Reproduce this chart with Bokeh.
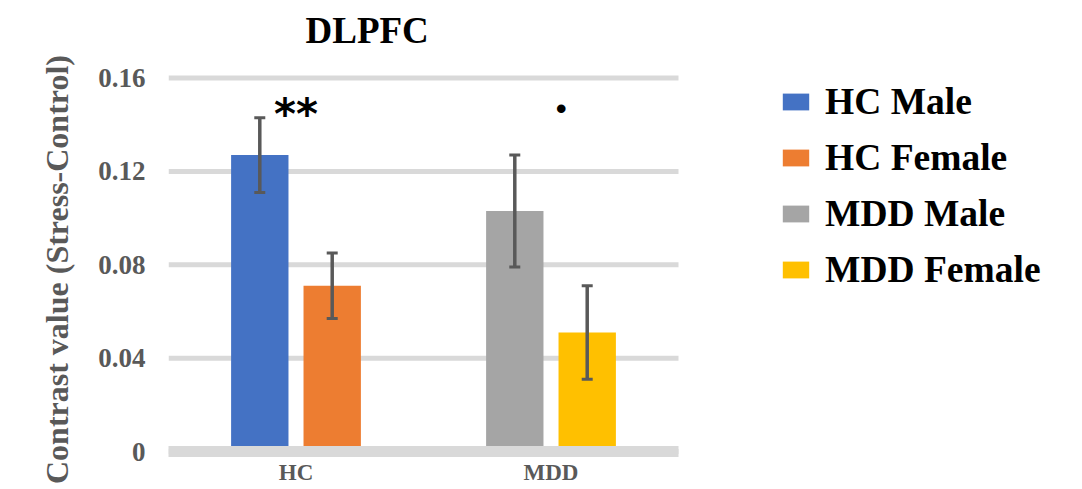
from bokeh.plotting import figure
from bokeh.models import (Range1d, Whisker, ColumnDataSource,
                          Legend, LegendItem, FixedTicker, TeeHead)
from bokeh.core.properties import value
from bokeh.embed import file_html
from bokeh.resources import INLINE

# ---------------- data ----------------
categories = ["HC", "MDD"]
series_names = ["HC Male", "HC Female", "MDD Male", "MDD Female"]
series_group = ["HC", "HC", "MDD", "MDD"]
series_values = [0.127, 0.071, 0.103, 0.051]
series_errors = [0.016, 0.014, 0.024, 0.020]
series_colors = ["#4472C4", "#ED7D31", "#A5A5A5", "#FFC000"]
y_ticks = [0, 0.04, 0.08, 0.12, 0.16]
y_tick_labels = ["0", "0.04", "0.08", "0.12", "0.16"]
sig_groups = ["HC", "MDD"]
sig_marks = ["**", "•"]
sig_y = [0.1445, 0.147]

# ---------------- styles ----------------
bar_offsets = [-0.142, 0.142, -0.142, 0.142]
bar_width = 0.225
sig_offsets = [0.0, 0.04]
sig_fonts = ["DejaVu Sans", "Liberation Sans"]
sig_sizes = ["42px", "30px"]
SERIF = "Liberation Serif"
GRAY = "#595959"
GRID = "#d9d9d9"
NB = "\u00a0"

# numeric category axis: each category is one unit wide, centred at i + 0.5
cat_pos = {c: i + 0.5 for i, c in enumerate(categories)}

p = figure(width=1082, height=489,
           x_range=Range1d(0, 3.5843),
           y_range=Range1d(-0.00256, 0.1688),
           output_backend="svg", toolbar_location=None,
           min_border_left=168, min_border_right=0,
           min_border_top=56, min_border_bottom=32)

p.outline_line_color = None
p.background_fill_color = "white"
p.border_fill_color = "white"

# title
p.title.text = "DLPFC"
p.title.text_font = SERIF
p.title.text_font_size = "37px"
p.title.text_font_style = "bold"
p.title.text_color = "black"
p.title.align = "left"
p.title.offset = 137
p.title.standoff = 14

# grid (drawn only over the category area)
p.xgrid.grid_line_color = None
p.ygrid.grid_line_color = None
p.segment(x0=0, x1=len(categories), y0=y_ticks, y1=y_ticks,
          line_color=GRID, line_width=5)

p.xaxis.ticker = FixedTicker(ticks=[cat_pos[c] for c in categories])
p.xaxis.major_label_overrides = {cat_pos[c]: c for c in categories}
p.yaxis.ticker = FixedTicker(ticks=y_ticks)
p.yaxis.major_label_overrides = {t: l for t, l in zip(y_ticks, y_tick_labels)}

# axes
for ax in (p.xaxis, p.yaxis):
    ax.axis_line_color = None
    ax.major_tick_line_color = None
    ax.minor_tick_line_color = None
    ax.major_tick_out = 0
    ax.major_tick_in = 0
    ax.major_label_text_font = SERIF
    ax.major_label_text_font_style = "bold"
    ax.major_label_text_color = GRAY
p.yaxis.major_label_text_font_size = "27px"
p.yaxis.major_label_standoff = 23
p.yaxis.axis_label = "Contrast value (Stress-Control)" + NB * 3
p.yaxis.axis_label_text_font = SERIF
p.yaxis.axis_label_text_font_size = "32px"
p.yaxis.axis_label_text_font_style = "bold"
p.yaxis.axis_label_text_color = GRAY
p.yaxis.axis_label_standoff = 20
p.xaxis.major_label_text_font_size = "23px"
p.xaxis.major_label_standoff = 2

# bars + error bars
items = []
for name, grp, val, err, col, off in zip(series_names, series_group, series_values,
                                         series_errors, series_colors, bar_offsets):
    src = ColumnDataSource(dict(x=[cat_pos[grp] + off], top=[val],
                                upper=[val + err], lower=[val - err]))
    r = p.vbar(x="x", top="top", bottom=0, width=bar_width, source=src,
               fill_color=col, line_color=None)
    items.append(LegendItem(label=name, renderers=[r]))
    w = Whisker(base="x", upper="upper", lower="lower",
                source=src, line_color=GRAY, line_width=3.5, level="annotation",
                upper_head=TeeHead(size=11, line_color=GRAY, line_width=3),
                lower_head=TeeHead(size=11, line_color=GRAY, line_width=3))
    p.add_layout(w)

# zero baseline band (on top of the bars)
zr = p.segment(x0=0, x1=len(categories), y0=0, y1=0, line_color=GRID, line_width=11)
zr.level = "annotation"

# significance marks
for grp, mark, yv, off, fnt, fs in zip(sig_groups, sig_marks, sig_y, sig_offsets,
                                       sig_fonts, sig_sizes):
    s = ColumnDataSource(dict(x=[cat_pos[grp] + off], y=[yv], t=[mark]))
    p.text(x="x", y="y", text="t", source=s,
           text_font=value(fnt), text_font_style="bold",
           text_font_size=fs, text_color="black",
           text_align="center", text_baseline="middle")

legend = Legend(items=items, location=(611, 166),
                label_text_font=SERIF, label_text_font_size="37.5px",
                label_text_font_style="bold", label_text_color="black",
                glyph_width=33, glyph_height=21, label_standoff=13,
                spacing=13, padding=0, margin=0,
                border_line_color=None, background_fill_alpha=0)
p.add_layout(legend, "center")

open("out.html", "w").write(file_html(p, INLINE))
